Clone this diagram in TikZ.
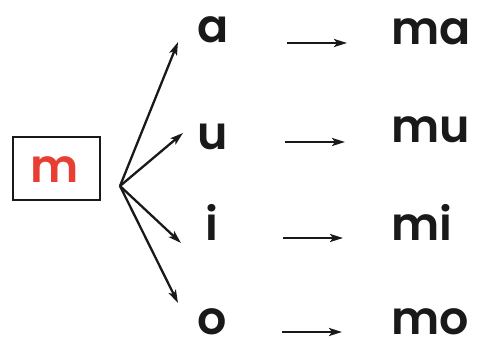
\documentclass[tikz,border=0pt]{standalone}
\usepackage{fontspec}
\setmainfont{Poppins}[BoldFont={Poppins SemiBold}]
\usetikzlibrary{arrows.meta}
\definecolor{mred}{RGB}{232,62,52}
\definecolor{ink}{RGB}{25,25,25}
\begin{document}
\begin{tikzpicture}[x=1pt,y=1pt,
  syl/.style={font=\fontsize{46}{46}\selectfont\bfseries, text=ink, inner sep=0pt, text depth=0pt, anchor=base west},
  arr/.style={draw=ink, line width=2.3pt, -{Stealth[length=13pt,width=8pt,inset=3pt]}},
  boxm/.style={draw=ink, line width=2.8pt, minimum width=87pt, minimum height=63pt, inner sep=0pt}]
\useasboundingbox (0,0) rectangle (481,340);
\node[boxm] (m) at (56.5,171.5) {};
\node[syl, text=mred, anchor=base] (mt) at (55,157) {m};
\coordinate (fork) at (120,154);
\coordinate (ta) at (178,298);
\coordinate (tu) at (183,207);
\coordinate (ti) at (181,97);
\coordinate (to) at (178,37);
\draw[arr] (fork) -- (ta);
\draw[arr] (fork) -- (tu);
\draw[arr] (fork) -- (ti);
\draw[arr] (fork) -- (to);
\node[syl] (a) at (197,297) {a};
\node[syl] (u) at (197,190) {u};
\node[syl] (i) at (205,100) {i};
\node[syl] (o) at (197,6) {o};
\coordinate (sa) at (287,297); \coordinate (ea) at (347,297);
\coordinate (su) at (285,198); \coordinate (eu) at (345,198);
\coordinate (si) at (283,102); \coordinate (ei) at (343,102);
\coordinate (so) at (282,8);   \coordinate (eo) at (342,8);
\draw[arr] (sa) -- (ea);
\draw[arr] (su) -- (eu);
\draw[arr] (si) -- (ei);
\draw[arr] (so) -- (eo);
\node[syl] (ma) at (391,295) {ma};
\node[syl] (mu) at (391,197) {mu};
\node[syl] (mi) at (391,100) {mi};
\node[syl] (mo) at (391,6) {mo};
\end{tikzpicture}
\end{document}
